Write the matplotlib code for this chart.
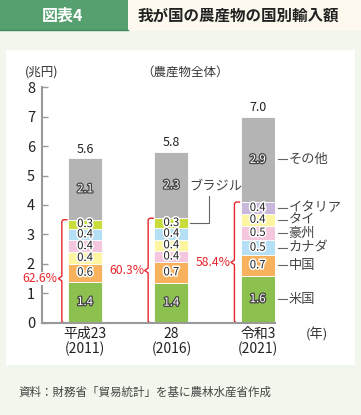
import matplotlib
matplotlib.use('Agg')
import matplotlib.pyplot as plt
import matplotlib.patheffects as pe
from matplotlib.patches import Rectangle, FancyBboxPatch

plt.rcParams['font.family'] = ['Noto Sans CJK JP', 'DejaVu Sans']

# -------- data --------
years = ['平成23\n(2011)', '28\n(2016)', '令和3\n(2021)']
countries_2011 = ['米国', '中国', 'タイ', '豪州', 'カナダ', 'ブラジル']
values_2011 = [1.4, 0.6, 0.4, 0.4, 0.4, 0.3]
countries_2016 = ['米国', '中国', '豪州', 'タイ', 'カナダ', 'ブラジル']
values_2016 = [1.36, 0.70, 0.38, 0.38, 0.41, 0.32]
countries_2021 = ['米国', '中国', 'カナダ', '豪州', 'タイ', 'イタリア']
values_2021 = [1.6, 0.7, 0.5, 0.5, 0.4, 0.4]
others = [2.1, 2.26, 2.9]
totals = [5.6, 5.8, 7.0]
shares = ['62.6%', '60.3%', '58.4%']

colors = {'米国': '#8cc04f', '中国': '#f8b15c', 'タイ': '#fdf5a0', '豪州': '#f5c7de',
          'カナダ': '#b4dff4', 'ブラジル': '#c8dc3c', 'イタリア': '#c9b7dc',
          'その他': '#b4b4b4'}

W, H = 361, 415
fig = plt.figure(figsize=(W / 100, H / 100), dpi=100)
fig.patch.set_facecolor('#f1f7ec')

# background / header in pixel coords
bg = fig.add_axes([0, 0, 1, 1], zorder=0)
bg.set_xlim(0, W)
bg.set_ylim(H, 0)
bg.axis('off')
bg.add_patch(Rectangle((0, 0), W, 31, color='#fdf9ef', lw=0))
bg.add_patch(FancyBboxPatch((-30, -30), 158, 61, boxstyle='round,pad=0,rounding_size=12',
                            fc='#56a070', ec='none'))
bg.add_patch(Rectangle((0, 12), 128, 19, color='#56a070', lw=0))
bg.plot([0, 128], [30.5, 30.5], color='#3f8a5a', lw=1)
bg.add_patch(Rectangle((6, 50), 349, 315, color='white', lw=0))
bg.text(63, 16, '図表4', color='white', fontsize=11.5, fontweight='bold', ha='center', va='center')
bg.text(138, 16, '我が国の農産物の国別輸入額', color='#222222', fontsize=11.2,
        fontweight='bold', ha='left', va='center')
bg.text(42, 72, '(兆円)', color='#333333', fontsize=9, ha='center', va='center')
bg.text(185, 72, '（農産物全体）', color='#333333', fontsize=9, ha='center', va='center')
bg.text(317, 334, '(年)', color='#333333', fontsize=9.5, ha='center', va='center')
bg.text(18, 392, '資料：財務省「貿易統計」を基に農林水産省作成', color='#444444',
        fontsize=8.3, ha='left', va='center')

# main chart
ax = fig.add_axes([42 / W, 1 - 322.7 / H, (275 - 42) / W, (322.7 - 87.3) / H], zorder=1)
ax.set_facecolor('none')
ax.set_xlim(-0.5, 2.2)
ax.set_ylim(0, 8)
pxu = 2.7 / 233  # data units per pixel in x
width = 0.394

white_txt = [pe.withStroke(linewidth=1.8, foreground='#444444')]
dark_txt = [pe.withStroke(linewidth=2.2, foreground='white')]

stacks = [(countries_2011, values_2011), (countries_2016, values_2016),
          (countries_2021, values_2021)]
for i, (names, vals) in enumerate(stacks):
    bottom = 0
    for name, v in zip(names, vals):
        big = name == '米国'
        ax.bar(i, v, width, bottom=bottom, color=colors[name], edgecolor='white', lw=0.6)
        ax.text(i, bottom + v / 2, f'{v:.1f}', ha='center', va='center', fontsize=8.2,
                color='white' if big else '#222222',
                path_effects=white_txt if big else dark_txt)
        bottom += v
    stack_top = bottom
    ax.bar(i, others[i], width, bottom=bottom, color=colors['その他'], edgecolor='white', lw=0.6)
    ax.text(i, bottom + others[i] / 2, f'{others[i]:.1f}', ha='center', va='center',
            fontsize=8.3, color='white', path_effects=white_txt)
    ax.text(i, bottom + others[i] + 0.08, f'{totals[i]:.1f}', ha='center', va='bottom',
            fontsize=9, color='#222222')

    # red brace (first one sits a bit lower so it clears the "2" tick label)
    xb = i - width / 2 - 6.3 * pxu
    hook = 5 * pxu
    mid = stack_top / 2 - (0.25 if i == 0 else 0)
    bx = [xb + hook, xb + 1.5 * pxu, xb, xb, xb - 3.5 * pxu, xb, xb, xb + 1.5 * pxu, xb + hook]
    by = [stack_top, stack_top, stack_top - 0.05, mid + 0.08, mid, mid - 0.08, 0.05, 0, 0]
    ax.plot(bx, by, color='#e8262d', lw=1.0, clip_on=False)
    ax.text(xb - 4 * pxu, mid, shares[i], ha='right', va='center', color='#e8262d',
            fontsize=8.8, zorder=5,
            bbox=dict(boxstyle='square,pad=0', fc='white', ec='none'))

# right-side callouts for 2021
x_right = 2 + width / 2
bottom = 0
for name, v in zip(countries_2021 + ['その他'], values_2021 + [others[2]]):
    y = bottom + v / 2
    ax.plot([x_right + 3 * pxu, x_right + 12 * pxu], [y, y], color='#666666', lw=0.8,
            clip_on=False)
    ax.text(x_right + 14 * pxu, y, name, ha='left', va='center', fontsize=9.5,
            color='#444444')
    bottom += v

# ブラジル callout on 2016 bar
y_br = sum(values_2016[:-1]) + values_2016[-1] / 2
x0 = 1 + width / 2
ax.plot([x0 + 2 * pxu, x0 + 21 * pxu, x0 + 21 * pxu], [y_br, y_br, 4.3],
        color='#666666', lw=0.8)
ax.text(x0 + 1 * pxu, 4.65, 'ブラジル', ha='left', va='center', fontsize=9.5, color='#444444')

for s in ['top', 'right']:
    ax.spines[s].set_visible(False)
for s in ['left', 'bottom']:
    ax.spines[s].set_color('#999999')
    ax.spines[s].set_linewidth(1.5)
ax.set_yticks(range(9))
ax.tick_params(axis='y', direction='in', length=4, width=1, color='#999999',
               labelsize=10.5, pad=5, labelcolor='#222222')
ax.set_xticks(range(3), years)
ax.tick_params(axis='x', length=0, labelsize=10, pad=3, labelcolor='#222222')
for lab in ax.get_xticklabels():
    lab.set_linespacing(1.05)

fig.savefig('out.png', dpi=100, facecolor=fig.get_facecolor())
